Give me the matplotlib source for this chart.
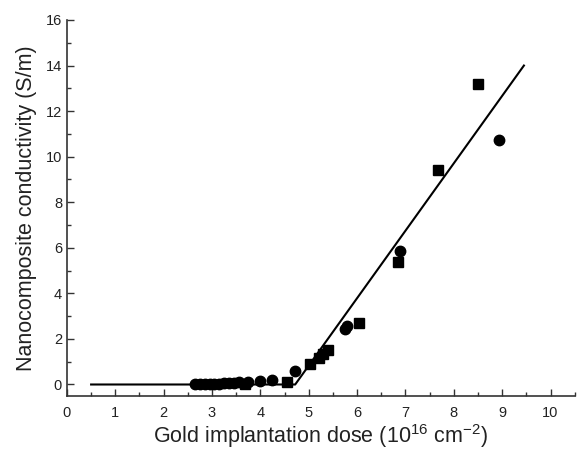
import matplotlib.pyplot as plt

plt.rcParams['font.family'] = ['Liberation Sans', 'DejaVu Sans']
plt.rcParams['mathtext.fontset'] = 'custom'
plt.rcParams['mathtext.rm'] = 'Liberation Sans'
plt.rcParams['mathtext.default'] = 'regular'

# Fitted piecewise line
line_x = [0.5, 4.72, 9.45]
line_y = [0.0, 0.0, 14.0]

# Square markers
sq_x = [3.68, 4.56, 5.03, 5.21, 5.3, 5.4, 6.05, 6.85, 7.67, 8.5]
sq_y = [0.0, 0.13, 0.92, 1.15, 1.35, 1.52, 2.72, 5.38, 9.4, 13.2]

# Circle markers
ci_x = [2.65, 2.75, 2.85, 2.95, 3.05, 3.15, 3.25, 3.35, 3.45, 3.55, 3.75,
        4.0, 4.25, 4.72, 5.3, 5.75, 5.8, 6.88, 8.93]
ci_y = [0.0, 0.0, 0.01, 0.02, 0.03, 0.04, 0.05, 0.06, 0.07, 0.09, 0.12,
        0.17, 0.2, 0.6, 1.35, 2.45, 2.55, 5.85, 10.75]

fig = plt.figure(figsize=(5.77, 4.54), dpi=100)
ax = fig.add_axes([0.116, 0.128, 0.88, 0.828])

ax.plot(line_x, line_y, color='black', linewidth=1.5)
ax.plot(sq_x, sq_y, 's', color='black', markersize=6.5, linestyle='none')
ax.plot(ci_x, ci_y, 'o', color='black', markersize=7.5, linestyle='none')

ax.set_xlim(0, 10.45)
ax.set_ylim(-0.5, 16)
ax.set_xticks(range(0, 11))
ax.set_xticks([i + 0.5 for i in range(0, 11)], minor=True)
ax.set_yticks(range(0, 17, 2))
ax.set_yticks(range(1, 16, 2), minor=True)

for s in ['top', 'right']:
    ax.spines[s].set_visible(False)
for s in ['left', 'bottom']:
    ax.spines[s].set_color('#333333')
    ax.spines[s].set_linewidth(1.2)

ax.tick_params(which='both', direction='in', color='#333333', labelsize=10.5,
               labelcolor='#222222')
ax.tick_params(which='major', length=5, width=1)
ax.tick_params(which='minor', length=3, width=1)
ax.tick_params(axis='x', pad=7)

ax.set_xlabel('Gold implantation dose (10$^{16}$ cm$^{-2}$)', fontsize=15.5, labelpad=2,
              color='#222222')
ax.set_ylabel('Nanocomposite conductivity (S/m)', fontsize=15.5, labelpad=6,
              color='#222222')

fig.savefig('out.png', dpi=100)
